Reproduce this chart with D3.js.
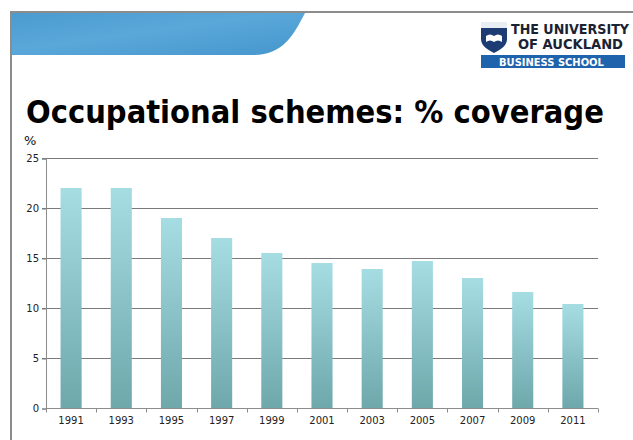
<!DOCTYPE html>
<html>
<head>
<meta charset="utf-8">
<script src="https://cdn.jsdelivr.net/npm/d3@7"></script>
<style>
  body { margin: 0; background: #fff; }
  svg { display: block; font-family: Tahoma, "DejaVu Sans", sans-serif; }
</style>
</head>
<body>
<div id="chart"></div>
<script>
// data
var years = ["1991", "1993", "1995", "1997", "1999", "2001", "2003", "2005", "2007", "2009", "2011"];
var coverage = [22, 22, 19, 17, 15.5, 14.5, 13.9, 14.7, 13.0, 11.6, 10.4];
var yTicks = [0, 5, 10, 15, 20, 25];

var width = 633, height = 440;
var plot = { left: 46, right: 598, top: 158, bottom: 408 };

var svg = d3.select("#chart").append("svg")
    .attr("width", width)
    .attr("height", height);

var defs = svg.append("defs");

var barGrad = defs.append("linearGradient")
    .attr("id", "barGrad")
    .attr("x1", 0).attr("y1", 0).attr("x2", 0).attr("y2", 1);
barGrad.append("stop").attr("offset", "0%").attr("stop-color", "#a6dde3");
barGrad.append("stop").attr("offset", "100%").attr("stop-color", "#6ea8ab");

var bannerGrad = defs.append("linearGradient")
    .attr("id", "bannerGrad")
    .attr("x1", 0).attr("y1", 0).attr("x2", 1).attr("y2", 1);
bannerGrad.append("stop").attr("offset", "0%").attr("stop-color", "#4b9bd0");
bannerGrad.append("stop").attr("offset", "45%").attr("stop-color", "#5aa8da");
bannerGrad.append("stop").attr("offset", "100%").attr("stop-color", "#4596cd");

// slide frame + blue banner
svg.append("path")
    .attr("d", "M11,13 H305 C292,38 282,55 252,55 H11 Z")
    .attr("fill", "url(#bannerGrad)");

svg.append("path")
    .attr("d", "M633,12 H11 V440")
    .attr("fill", "none")
    .attr("stroke", "#8c8c8c")
    .attr("stroke-width", 2);

// logo
var logo = svg.append("g");
logo.append("path")
    .attr("d", "M481,22 H507 V39 C507,46 500,50 494,53 C488,50 481,46 481,39 Z")
    .attr("fill", "#1d3c74");
logo.append("rect")
    .attr("x", 481).attr("y", 22).attr("width", 26).attr("height", 6)
    .attr("fill", "#e9eef5");
logo.append("path")
    .attr("d", "M486,36 Q490,33 494,36 Q498,33 502,36 V42 Q498,39 494,42 Q490,39 486,42 Z")
    .attr("fill", "#ffffff");

function fitText(sel, w) {
    // shrink the font until the natural width matches w
    var fs = +sel.attr("font-size");
    var len = sel.node().getComputedTextLength();
    sel.attr("font-size", (fs * w / len).toFixed(2));
}

var l1 = logo.append("text")
    .attr("x", 511).attr("y", 33.5)
    .attr("font-family", "'DejaVu Sans Condensed', 'DejaVu Sans', sans-serif")
    .attr("font-weight", "bold")
    .attr("font-size", 14)
    .attr("fill", "#1b2233")
    .text("THE UNIVERSITY");
fitText(l1, 118);
var l2 = logo.append("text")
    .attr("x", 518).attr("y", 49)
    .attr("font-family", "'DejaVu Sans Condensed', 'DejaVu Sans', sans-serif")
    .attr("font-weight", "bold")
    .attr("font-size", 14)
    .attr("fill", "#1b2233")
    .text("OF AUCKLAND");
fitText(l2, 105);
logo.append("rect")
    .attr("x", 481).attr("y", 55).attr("width", 144).attr("height", 13)
    .attr("fill", "#1f63ad");
var l3 = logo.append("text")
    .attr("x", 499).attr("y", 65.5)
    .attr("font-family", "'DejaVu Sans Condensed', 'DejaVu Sans', sans-serif")
    .attr("font-weight", "bold")
    .attr("font-size", 10.5)
    .attr("fill", "#ffffff")
    .text("BUSINESS SCHOOL");
fitText(l3, 105);

// title
var title = svg.append("text")
    .attr("x", 26).attr("y", 123)
    .attr("font-family", "'DejaVu Sans Condensed', 'DejaVu Sans', sans-serif")
    .attr("font-weight", "bold")
    .attr("font-size", 32)
    .attr("fill", "#000")
    .text("Occupational schemes: % coverage");
fitText(title, 578);

svg.append("text")
    .attr("x", 24).attr("y", 145)
    .attr("font-size", 13)
    .attr("fill", "#111")
    .text("%");

// scales
var x = d3.scaleBand()
    .domain(years)
    .range([plot.left, plot.right])
    .paddingInner(0.58)
    .paddingOuter(0.29);

var y = d3.scaleLinear()
    .domain([0, 25])
    .range([plot.bottom, plot.top]);

// gridlines
svg.append("g")
    .selectAll("line")
    .data(yTicks.filter(function (d) { return d > 0; }))
    .enter()
    .append("line")
    .attr("x1", plot.left - 4)
    .attr("x2", plot.right)
    .attr("y1", function (d) { return y(d) + 0.5; })
    .attr("y2", function (d) { return y(d) + 0.5; })
    .attr("stroke", "#7a7a7a")
    .attr("stroke-width", 1);

// bars
svg.append("g")
    .selectAll("rect")
    .data(years)
    .enter()
    .append("rect")
    .attr("x", function (d) { return x(d); })
    .attr("y", function (d, i) { return y(coverage[i]); })
    .attr("width", x.bandwidth())
    .attr("height", function (d, i) { return y(0) - y(coverage[i]); })
    .attr("fill", "url(#barGrad)");

// y axis
var yAxis = svg.append("g")
    .attr("transform", "translate(" + plot.left + ",0.5)")
    .call(d3.axisLeft(y).tickValues(yTicks).tickSize(4).tickPadding(3));
yAxis.select(".domain").attr("stroke", "#8c8c8c");
yAxis.selectAll(".tick line").attr("stroke", "#7a7a7a");
yAxis.selectAll(".tick text")
    .attr("font-family", "Tahoma, 'DejaVu Sans', sans-serif")
    .attr("font-size", 10)
    .attr("fill", "#222");

// x axis with ticks between categories
var xAxis = svg.append("g")
    .attr("transform", "translate(0," + (plot.bottom + 0.5) + ")");
xAxis.append("line")
    .attr("x1", plot.left).attr("x2", plot.right)
    .attr("stroke", "#8c8c8c");
xAxis.selectAll(".sep")
    .data(d3.range(years.length + 1))
    .enter()
    .append("line")
    .attr("class", "sep")
    .attr("x1", function (i) { return Math.round(plot.left + i * x.step()) + 0.5; })
    .attr("x2", function (i) { return Math.round(plot.left + i * x.step()) + 0.5; })
    .attr("y1", 0).attr("y2", 4)
    .attr("stroke", "#8c8c8c");
xAxis.selectAll(".lbl")
    .data(years)
    .enter()
    .append("text")
    .attr("class", "lbl")
    .attr("x", function (d) { return x(d) + x.bandwidth() / 2; })
    .attr("y", 15)
    .attr("text-anchor", "middle")
    .attr("font-family", "Tahoma, 'DejaVu Sans', sans-serif")
    .attr("font-size", 10)
    .attr("fill", "#222")
    .text(function (d) { return d; });
</script>
</body>
</html>
